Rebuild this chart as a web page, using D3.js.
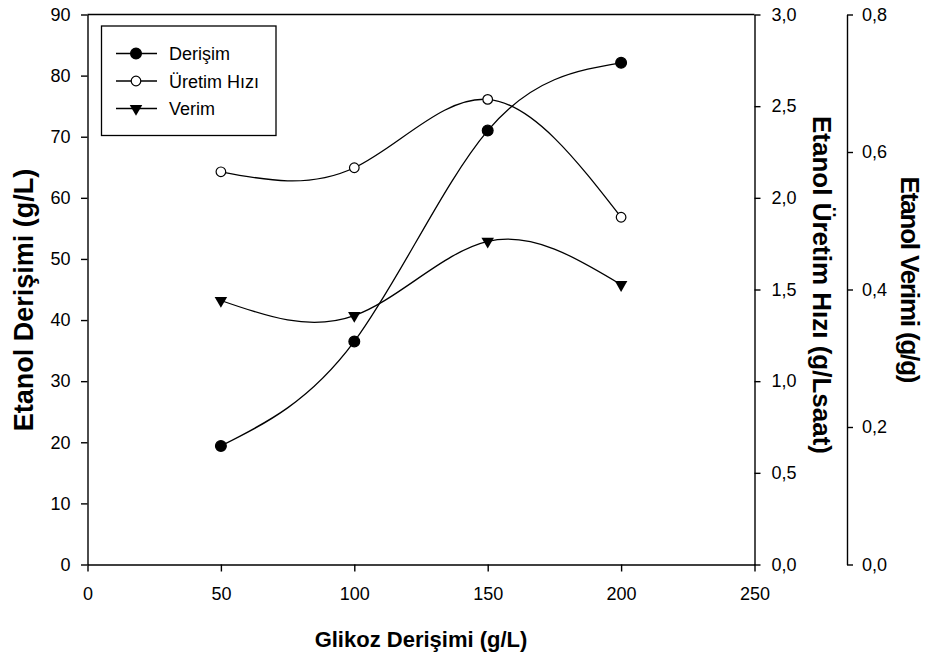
<!DOCTYPE html>
<html>
<head>
<meta charset="utf-8">
<script src="https://cdn.jsdelivr.net/npm/d3@7"></script>
<style>
  body { margin: 0; background: #fff; }
  text { font-family: "Liberation Sans", Arial, sans-serif; fill: #000; }
  .axis path, .axis line { stroke: #000; stroke-width: 1.4; }
  .axis text { font-size: 18px; }
  .titulo { font-weight: bold; }
</style>
</head>
<body>
<div class="etanol-chart-container"></div>
<script>
// Glikoz derisimine gore etanol
var glikoz = [50, 100, 150, 200];
var derisim = [19.4, 36.5, 71.0, 82.1];
var uretimHizi = [2.142, 2.164, 2.537, 1.894];
var verim = [0.384, 0.362, 0.470, 0.407];
var seriler = ["Derişim", "Üretim Hızı", "Verim"];

var width = 925,
    height = 665;

var plot = { left: 87.5, right: 754.5, top: 14.5, bottom: 564.5 };
var axis2X = 847;

var svg = d3.select('.etanol-chart-container')
    .append('svg')
    .attr("width", width)
    .attr("height", height);

var x = d3.scaleLinear()
    .domain([0, 250])
    .range([plot.left, plot.right]);

var yDer = d3.scaleLinear()
    .domain([0, 90])
    .range([plot.bottom, plot.top]);

var yHiz = d3.scaleLinear()
    .domain([0, 3])
    .range([plot.bottom, plot.top]);

var yVer = d3.scaleLinear()
    .domain([0, 0.8])
    .range([plot.bottom, plot.top]);

var virgul = function(d) { return d3.format(".1f")(d).replace(".", ","); };

// frame top
svg.append("line")
    .attr("x1", plot.left).attr("x2", plot.right)
    .attr("y1", plot.top).attr("y2", plot.top)
    .attr("stroke", "#000").attr("stroke-width", 1.4);

svg.append("g")
    .attr("class", "axis")
    .attr("transform", "translate(0," + plot.bottom + ")")
    .call(d3.axisBottom(x).tickValues([0, 50, 100, 150, 200, 250]).tickSize(7).tickPadding(15.5).tickSizeOuter(0));

svg.append("g")
    .attr("class", "axis")
    .attr("transform", "translate(" + plot.left + ",0)")
    .call(d3.axisLeft(yDer).ticks(9).tickSize(6.5).tickPadding(10.5).tickSizeOuter(0));

svg.append("g")
    .attr("class", "axis")
    .attr("transform", "translate(" + plot.right + ",0)")
    .call(d3.axisRight(yHiz).ticks(6).tickFormat(virgul).tickSize(6).tickPadding(11).tickSizeOuter(0));

svg.append("g")
    .attr("class", "axis")
    .attr("transform", "translate(" + axis2X + ",0)")
    .call(d3.axisRight(yVer).ticks(4).tickFormat(virgul).tickSize(6).tickPadding(9).tickSizeOuter(0));

// axis titles
svg.append("text")
    .attr("class", "titulo")
    .attr("x", 421).attr("y", 647)
    .attr("text-anchor", "middle")
    .style("font-size", "22px")
    .text("Glikoz Derişimi (g/L)");

svg.append("text")
    .attr("class", "titulo")
    .attr("transform", "translate(33,300) rotate(-90)")
    .attr("text-anchor", "middle")
    .style("font-size", "27px")
    .text("Etanol Derişimi (g/L)");

svg.append("text")
    .attr("class", "titulo")
    .attr("transform", "translate(813,285) rotate(90)")
    .attr("text-anchor", "middle")
    .style("font-size", "26px")
    .text("Etanol Üretim Hızı (g/Lsaat)");

svg.append("text")
    .attr("class", "titulo")
    .attr("transform", "translate(901,280) rotate(90)")
    .attr("text-anchor", "middle")
    .style("font-size", "26px")
    .attr("textLength", 207)
    .attr("lengthAdjust", "spacing")
    .text("Etanol Verimi (g/g)");

var triangulo = d3.symbol().type(d3.symbolTriangle).size(68);

function serie(valores, y) {
    return glikoz.map(function(g, i) { return [x(g), y(valores[i])]; });
}

var linea = d3.line().curve(d3.curveNatural);

var datos = [
    { pts: serie(derisim, yDer), tipo: "dolu" },
    { pts: serie(uretimHizi, yHiz), tipo: "bos" },
    { pts: serie(verim, yVer), tipo: "ucgen" }
];

function marcador(g, tipo, px, py) {
    if (tipo === "ucgen") {
        g.append("path")
            .attr("d", triangulo)
            .attr("transform", "translate(" + px + "," + py + ") rotate(180)")
            .attr("fill", "#000");
    } else {
        g.append("circle")
            .attr("cx", px).attr("cy", py)
            .attr("r", tipo === "dolu" ? 5.4 : 4.8)
            .attr("fill", tipo === "dolu" ? "#000" : "#fff")
            .attr("stroke", "#000")
            .attr("stroke-width", 1.2);
    }
}

datos.forEach(function(d) {
    svg.append("path")
        .attr("d", linea(d.pts))
        .attr("fill", "none")
        .attr("stroke", "#000")
        .attr("stroke-width", 1.3);
});

datos.forEach(function(d) {
    d.pts.forEach(function(p) { marcador(svg, d.tipo, p[0], p[1]); });
});

// legend
var leyenda = svg.append("g");

leyenda.append("rect")
    .attr("x", 101.5).attr("y", 26)
    .attr("width", 174.5).attr("height", 109.5)
    .attr("fill", "#fff")
    .attr("stroke", "#000")
    .attr("stroke-width", 1.3);

seriler.forEach(function(s, i) {
    var ly = 53.5 + i * 27.5;
    leyenda.append("line")
        .attr("x1", 116).attr("x2", 157)
        .attr("y1", ly).attr("y2", ly)
        .attr("stroke", "#000").attr("stroke-width", 1.3);
    marcador(leyenda, datos[i].tipo, 136, ly);
    leyenda.append("text")
        .attr("x", 169).attr("y", ly + 6.5)
        .style("font-size", "18px")
        .text(s);
});
</script>
</body>
</html>
